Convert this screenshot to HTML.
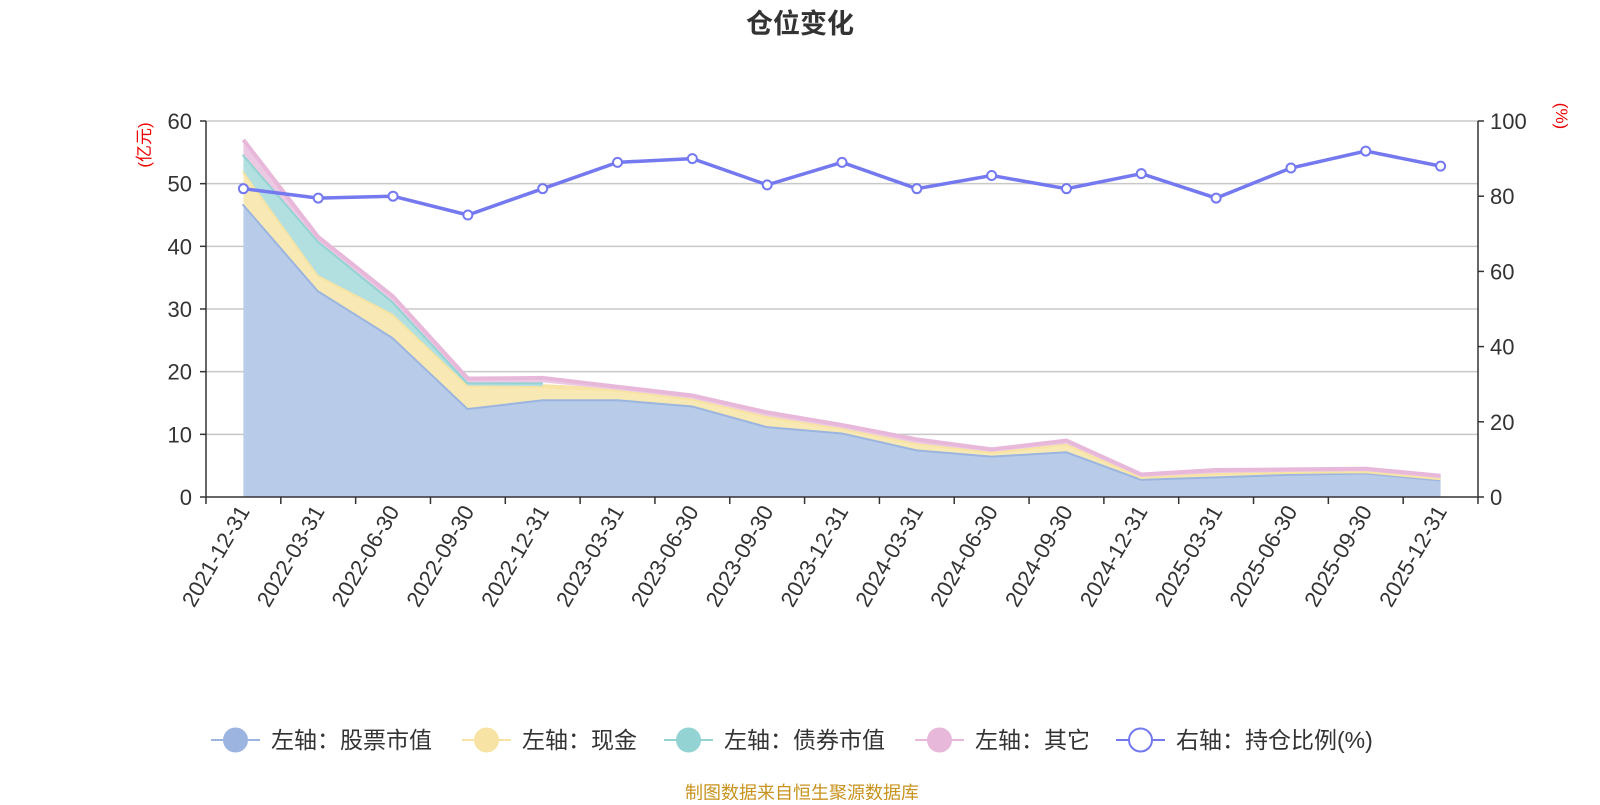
<!DOCTYPE html>
<html><head><meta charset="utf-8">
<style>
body{margin:0;background:#fff;width:1600px;height:800px;overflow:hidden;font-family:"Liberation Sans","Noto Sans CJK SC",sans-serif;}
svg text{font-family:"Liberation Sans","Noto Sans CJK SC",sans-serif;}
</style></head><body>
<svg id="chart" width="1600" height="800" xmlns="http://www.w3.org/2000/svg">
<text x="800" y="33" text-anchor="middle" font-size="27" font-weight="bold" fill="#333">仓位变化</text>
<text transform="translate(150,145) rotate(-90)" text-anchor="middle" font-size="17" fill="#e00">(亿元)</text>
<text transform="translate(1556,116) rotate(90)" text-anchor="middle" font-size="17" fill="#e00">(%)</text>
<g id="grid"></g><g id="areas"></g><g id="axes"></g><g id="ratio"></g>
<g id="legend"></g>
<text x="802" y="799" text-anchor="middle" font-size="18" fill="#c8931e">制图数据来自恒生聚源数据库</text>
</svg>
<script>
const categories=["2021-12-31","2022-03-31","2022-06-30","2022-09-30","2022-12-31","2023-03-31","2023-06-30","2023-09-30","2023-12-31","2024-03-31","2024-06-30","2024-09-30","2024-12-31","2025-03-31","2025-06-30","2025-09-30","2025-12-31"];
const stockValues=[46.8,33,25.5,14.2,15.6,15.6,14.6,11.3,10.3,7.6,6.6,7.3,2.9,3.3,3.7,3.9,2.8];
const cashValues=[5.2,2.4,3.7,3.6,2.1,1.5,1.1,1.6,0.7,1.0,0.6,1.2,0.3,0.5,0.3,0.2,0.2];
const bondValues=[2.7,5.5,2.0,0.5,0.6,0,0,0,0,0,0,0,0,0,0,0,0];
const otherValues=[2.3,0.6,0.8,0.6,0.7,0.5,0.5,0.6,0.5,0.6,0.4,0.5,0.4,0.5,0.4,0.4,0.4];
const ratioValues=[82,79.5,80,75,82,89,90,83,89,82,85.5,82,86,79.5,87.5,92,88];
const leftTicks=[0,10,20,30,40,50,60];
const rightTicks=[0,20,40,60,80,100];
const NS="http://www.w3.org/2000/svg";
const X0=206,X1=1478,Y0=497,Y1=121;
const bw=(X1-X0)/categories.length;
const xs=i=>X0+bw*(i+0.5);
const yl=v=>Y0-(v/60)*(Y0-Y1);
const yr=v=>Y0-(v/100)*(Y0-Y1);
function mk(tag,attrs,parent){const e=document.createElementNS(NS,tag);for(const k in attrs)e.setAttribute(k,attrs[k]);document.getElementById(parent).appendChild(e);return e;}
leftTicks.forEach(t=>{
  if(t>0){const g=mk('line',{x1:X0,x2:X1,y1:yl(t),y2:yl(t),stroke:'#c8c8c8','stroke-width':1.5},'grid');
  
  }
  mk('line',{x1:X0-6,x2:X0,y1:yl(t),y2:yl(t),stroke:'#333','stroke-width':1.5},'axes');
  const tx=mk('text',{x:X0-14,y:yl(t)+8,'text-anchor':'end','font-size':22,fill:'#333'},'axes');tx.textContent=t;
  
  
});
rightTicks.forEach(t=>{
  mk('line',{x1:X1,x2:X1+6,y1:yr(t),y2:yr(t),stroke:'#333','stroke-width':1.5},'axes');
  const tx=mk('text',{x:X1+12,y:yr(t)+8,'font-size':22,fill:'#333'},'axes');tx.textContent=t;
  
  
});
const series=[[stockValues,'#b8cbe8','#9bb5e0','stock'],[cashValues,'#f8e9b4','#f7e3a3','cash'],[bondValues,'#b2dfe0','#93d3d4','bond'],[otherValues,'#ecc9e3','#e8b8da','other']];
let base=categories.map(()=>0);
series.forEach(([vals,fill,stroke,nm])=>{
  const top=base.map((b,i)=>b+vals[i]);
  let n=categories.length;
  if(nm==='bond') n=5;
  let d='';
  for(let i=0;i<n;i++)d+=(i?'L':'M')+xs(i)+','+yl(top[i]);
  let line=d;
  for(let i=n-1;i>=0;i--)d+='L'+xs(i)+','+yl(base[i]);
  const a=mk('path',{d:d+'Z',fill:fill},'areas');
  
  
  const l=mk('path',{d:line,fill:'none',stroke:stroke,'stroke-width':4},'areas');
  
  
  base=top;
});
mk('line',{x1:X0,x2:X0,y1:Y1,y2:Y0,stroke:'#333','stroke-width':1.5},'axes');
mk('line',{x1:X1,x2:X1,y1:Y1,y2:Y0,stroke:'#333','stroke-width':1.5},'axes');
mk('line',{x1:X0,x2:X1,y1:Y0,y2:Y0,stroke:'#333','stroke-width':1.5},'axes');
for(let i=0;i<=categories.length;i++)mk('line',{x1:X0+bw*i,x2:X0+bw*i,y1:Y0,y2:Y0+7,stroke:'#333','stroke-width':1.5},'axes');
categories.forEach((c,i)=>{
  const t=mk('text',{transform:`translate(${xs(i)+7},${Y0+14}) rotate(-60)`,'text-anchor':'end','font-size':22,fill:'#333'},'axes');t.textContent=c;
  
  
});
let rd='';ratioValues.forEach((v,i)=>rd+=(i?'L':'M')+xs(i)+','+yr(v));
const rl=mk('path',{d:rd,fill:'none',stroke:'#7479f0','stroke-width':3.5},'ratio');


ratioValues.forEach((v,i)=>{
  const p=mk('circle',{cx:xs(i),cy:yr(v),r:4.5,fill:'#fff',stroke:'#7479f0','stroke-width':2},'ratio');
  
  
});
const legend=[[211,'#9bb5e0','#9bb5e0','左轴：股票市值'],[462,'#f7e3a3','#f7e3a3','左轴：现金'],[664,'#93d3d4','#93d3d4','左轴：债券市值'],[915,'#e8b8da','#e8b8da','左轴：其它'],[1116,'#7479f0','#fff','右轴：持仓比例(%)']];
legend.forEach(([x,c,f,t])=>{
  const g=mk('g',{},'legend');
  
  
  const ln=document.createElementNS(NS,'line');ln.setAttribute('x1',x);ln.setAttribute('x2',x+49);ln.setAttribute('y1',740);ln.setAttribute('y2',740);ln.setAttribute('stroke',c);ln.setAttribute('stroke-width',2);g.appendChild(ln);
  const ci=document.createElementNS(NS,'circle');ci.setAttribute('cx',x+24.5);ci.setAttribute('cy',740);ci.setAttribute('r',11.5);ci.setAttribute('fill',f);ci.setAttribute('stroke',c);ci.setAttribute('stroke-width',2);g.appendChild(ci);
  const tx=document.createElementNS(NS,'text');tx.setAttribute('x',x+60);tx.setAttribute('y',748);tx.setAttribute('font-size',23);tx.setAttribute('fill','#333');tx.textContent=t;g.appendChild(tx);
});
</script>
</body></html>
